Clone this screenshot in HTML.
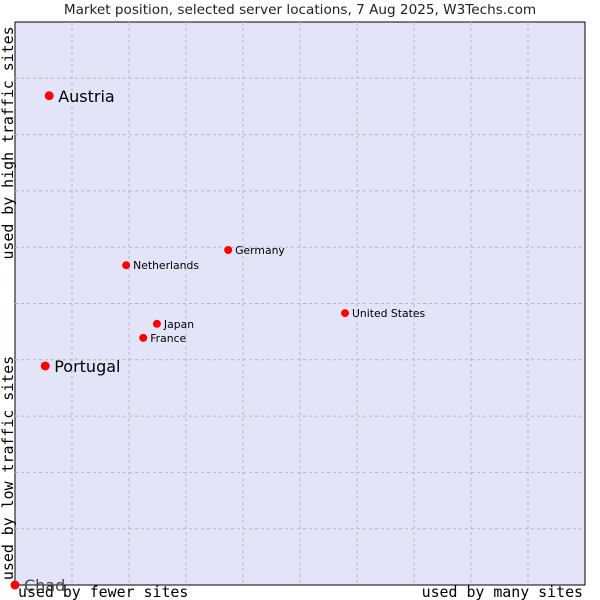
<!DOCTYPE html>
<html><head><meta charset="utf-8"><style>
body{margin:0;background:#fff;width:600px;height:600px;overflow:hidden}
svg{display:block}
</style></head><body>
<svg id="chart" width="600" height="600" xmlns="http://www.w3.org/2000/svg">
<text x="300" y="14" text-anchor="middle" font-family="DejaVu Sans, sans-serif" font-size="13.6" fill="#222">Market position, selected server locations, 7 Aug 2025, W3Techs.com</text>
<rect x="15" y="22" width="570" height="563" fill="#e4e4f8" stroke="#000" stroke-width="1"/>
<g id="grid"></g>
<text transform="translate(13,143) rotate(-90)" text-anchor="middle" font-family="DejaVu Sans Mono, monospace" font-size="14.9" fill="#000">used by high traffic sites</text>
<text transform="translate(13,468) rotate(-90)" text-anchor="middle" font-family="DejaVu Sans Mono, monospace" font-size="14.9" fill="#000">used by low traffic sites</text>
<text x="18" y="597" font-family="DejaVu Sans Mono, monospace" font-size="14.9" fill="#000">used by fewer sites</text>
<text x="583" y="597" text-anchor="end" font-family="DejaVu Sans Mono, monospace" font-size="14.9" fill="#000">used by many sites</text>
<g id="points"></g>
</svg>
<script>
const labels = ["Austria","Portugal","Chad","Netherlands","Germany","United States","Japan","France"];
const xValues = [6.0,5.3,0,19.5,37.4,57.9,24.9,22.5];
const yValues = [86.9,38.9,0,56.8,59.5,48.3,46.4,43.9];
const large = [true,true,true,false,false,false,false,false];
const X0=15,X1=585,Y0=585,Y1=22;
function sx(v){return X0+(X1-X0)*v/100;}
function sy(v){return Y0-(Y0-Y1)*v/100;}
const NS="http://www.w3.org/2000/svg";
const grid=document.getElementById('grid');
for(let i=1;i<10;i++){
  const v=document.createElementNS(NS,'line');
  
  
  v.setAttribute('x1',sx(i*10));v.setAttribute('x2',sx(i*10));v.setAttribute('y1',Y1);v.setAttribute('y2',Y0);
  v.setAttribute('stroke','#b8b8b8');v.setAttribute('stroke-dasharray','3,3');
  grid.appendChild(v);
  const h=document.createElementNS(NS,'line');
  
  
  h.setAttribute('y1',sy(i*10));h.setAttribute('y2',sy(i*10));h.setAttribute('x1',X0);h.setAttribute('x2',X1);
  h.setAttribute('stroke','#b8b8b8');h.setAttribute('stroke-dasharray','3,3');
  grid.appendChild(h);
}
const pts=document.getElementById('points');
labels.forEach((l,i)=>{
  const x=sx(xValues[i]),y=sy(yValues[i]);
  const c=document.createElementNS(NS,'circle');
  
  
  c.setAttribute('cx',x);c.setAttribute('cy',y);c.setAttribute('r',large[i]?4.5:4);c.setAttribute('fill','#f00');
  pts.appendChild(c);
  const t=document.createElementNS(NS,'text');
  
  
  t.setAttribute('x',x+(large[i]?9:7));t.setAttribute('y',y+(large[i]?6:4));
  t.setAttribute('font-family','DejaVu Sans, sans-serif');
  t.setAttribute('font-size',large[i]?16:10.8);
  t.setAttribute('fill',l==='Chad'?'#444':'#000');
  t.textContent=l;
  pts.appendChild(t);
});
</script>
</body></html>
